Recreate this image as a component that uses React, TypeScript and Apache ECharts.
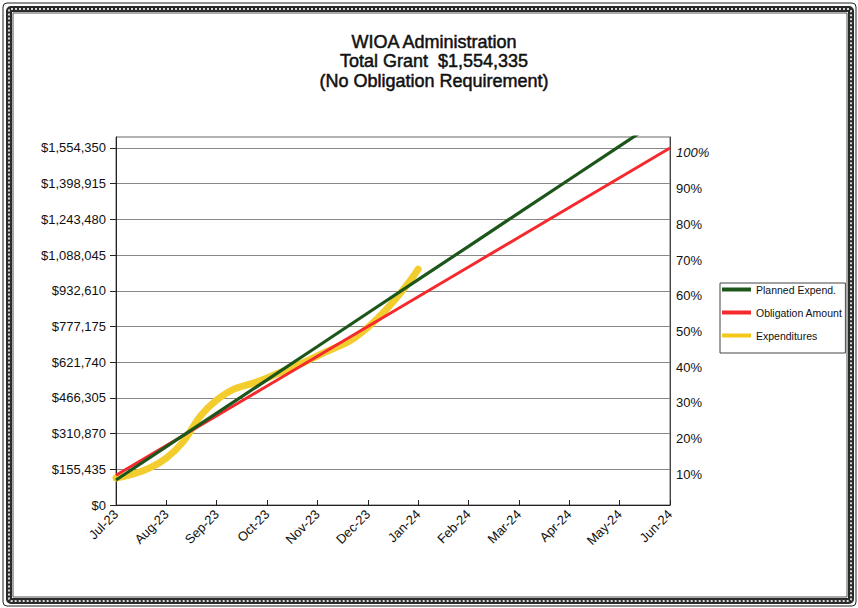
import React, { useEffect, useRef } from 'react';
import * as echarts from 'echarts';

const months = ['Jul-23', 'Aug-23', 'Sep-23', 'Oct-23', 'Nov-23', 'Dec-23', 'Jan-24', 'Feb-24', 'Mar-24', 'Apr-24', 'May-24', 'Jun-24'];
const plannedExpend = [109000, 254000, 400000, 545000, 690000, 836000, 981000, 1126000, 1272000, 1417000, 1562000, 1708000];
const obligationAmount = [129528, 259056, 388584, 518112, 647640, 777168, 906696, 1036224, 1165751, 1295279, 1424807, 1554335];
const expenditures = [117600, 205000, 457000, 553000, 649000, 773000, 1027000];
const dollarTicks = [0, 155435, 310870, 466305, 621740, 777175, 932610, 1088045, 1243480, 1398915, 1554350];
const percentTicks = [10, 20, 30, 40, 50, 60, 70, 80, 90, 100];
const titleLines = ['WIOA Administration', 'Total Grant  $1,554,335', '(No Obligation Requirement)'];
const seriesNames = ['Planned Expend.', 'Obligation Amount', 'Expenditures'];
const dollarMax = 1602000;
const fullAmount = 1554350;

const FONT = '"Liberation Sans", Arial, sans-serif';

export default function App() {
  const ref = useRef<HTMLDivElement>(null);
  useEffect(() => {
    if (!ref.current) return;
    const chart = echarts.init(ref.current, null, { renderer: 'svg' });
    const pctMax = (dollarMax / fullAmount) * 100;
    chart.setOption({
      animation: false,
      backgroundColor: '#ffffff',
      textStyle: { fontFamily: FONT },
      grid: {
        left: 116,
        right: 188,
        top: 137,
        bottom: 103,
        show: true,
        borderColor: '#666',
        borderWidth: 1,
        backgroundColor: 'transparent',
      },
      legend: {
        orient: 'vertical',
        left: 720,
        top: 283,
        data: seriesNames,
        icon: 'rect',
        itemWidth: 29,
        itemHeight: 4,
        itemGap: 12,
        padding: [1, 3, 12, 2],
        borderColor: '#444',
        borderWidth: 1,
        backgroundColor: '#fff',
        textStyle: { fontFamily: FONT, fontSize: 10.5, color: '#111' },
      },
      xAxis: {
        type: 'category',
        data: months,
        boundaryGap: false,
        axisLine: { lineStyle: { color: '#222', width: 1 } },
        axisTick: { inside: true, length: 5, lineStyle: { color: '#222' } },
        axisLabel: { rotate: 45, margin: 7, fontSize: 13, color: '#111', fontFamily: FONT, interval: 0 },
        splitLine: { show: false },
      },
      yAxis: [
        {
          type: 'value',
          min: 0,
          max: dollarMax,
          interval: 155435,
          axisLine: { show: true, lineStyle: { color: '#222' } },
          axisTick: { show: true, length: 6, lineStyle: { color: '#222' }, customValues: dollarTicks },
          axisLabel: {
            customValues: dollarTicks,
            margin: 10,
            fontSize: 13,
            color: '#111',
            fontFamily: FONT,
            formatter: (v: number) => (v > fullAmount + 1 ? '' : '$' + Math.round(v).toLocaleString('en-US')),
          },
          splitLine: { show: true, lineStyle: { color: '#888', width: 1 } },
        },
        {
          type: 'value',
          min: 0,
          max: pctMax,
          interval: 10,
          position: 'right',
          axisLine: { show: true, lineStyle: { color: '#444' } },
          axisTick: { show: false },
          axisLabel: {
            customValues: percentTicks,
            margin: 6,
            fontSize: 13,
            color: '#111',
            fontFamily: FONT,
            padding: [10, 0, 0, 0],
            formatter: (v: number) => {
              if (v < 5 || v > 100.5) return '';
              const r = Math.round(v);
              return r === 100 ? '{i|100%}' : r + '%';
            },
            rich: { i: { fontStyle: 'italic', fontSize: 13, fontFamily: FONT, color: '#111' } },
          },
          splitLine: { show: false },
        },
      ],
      series: [
        {
          name: seriesNames[0],
          type: 'line',
          data: plannedExpend,
          symbol: 'none',
          z: 4,
          lineStyle: { color: '#1d561b', width: 3.2 },
          itemStyle: { color: '#1d561b' },
        },
        {
          name: seriesNames[1],
          type: 'line',
          data: obligationAmount,
          symbol: 'none',
          z: 3,
          lineStyle: { color: '#f42a2e', width: 3 },
          itemStyle: { color: '#f42a2e' },
        },
        {
          name: seriesNames[2],
          type: 'line',
          data: expenditures,
          symbol: 'none',
          smooth: 0.5,
          z: 2,
          lineStyle: { color: '#f3cd2e', width: 7, cap: 'round' },
          itemStyle: { color: '#f3c818' },
        },
      ],
      graphic: [
        {
          type: 'text',
          x: 434,
          y: 32,
          style: {
            text: titleLines.join('\n'),
            textAlign: 'center',
            textVerticalAlign: 'top',
            fontSize: 18,
            fontFamily: FONT,
            lineHeight: 19.5,
            fill: '#111',
            stroke: '#111',
            lineWidth: 0.5,
          },
        },
        {
          type: 'rect',
          z: 100,
          shape: { x: 3, y: 3, width: 853, height: 603, r: 4 },
          style: { fill: 'none', stroke: '#222', lineWidth: 1 },
        },
        {
          type: 'rect',
          z: 100,
          shape: { x: 9, y: 9, width: 842, height: 592, r: 2 },
          style: { fill: 'none', stroke: '#2a2a2a', lineWidth: 6 },
        },
        {
          type: 'rect',
          z: 101,
          shape: { x: 9, y: 9, width: 842, height: 592, r: 2 },
          style: { fill: 'none', stroke: '#d8d8d8', lineWidth: 2, lineDash: [2, 2] },
        },
        {
          type: 'rect',
          z: 100,
          shape: { x: 13, y: 13, width: 834, height: 584 },
          style: { fill: 'none', stroke: '#555', lineWidth: 1 },
        },
      ],
    });
    return () => chart.dispose();
  }, []);
  return (
    <div
      ref={ref}
      style={{ position: 'absolute', left: 0, top: 0, width: 858, height: 608, background: '#fff' }}
    />
  );
}
